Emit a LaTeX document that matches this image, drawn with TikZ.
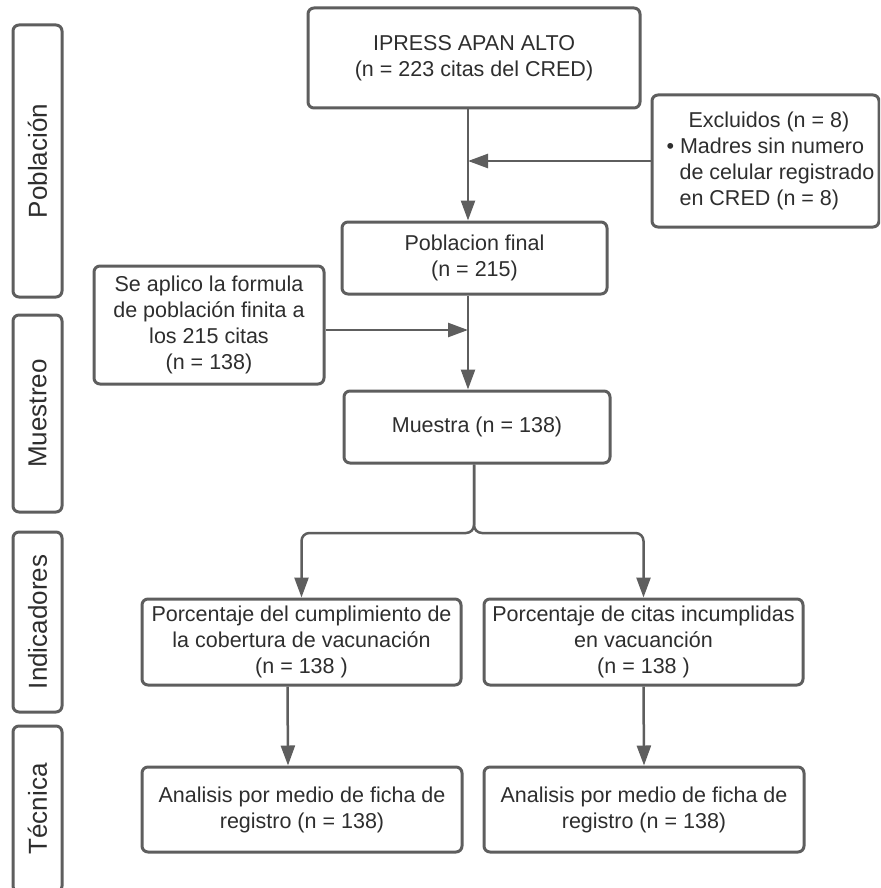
\documentclass[tikz,border=0pt]{standalone}
\usepackage{fontspec}
\setmainfont{Liberation Sans}
\usetikzlibrary{arrows.meta,positioning}
\definecolor{linegray}{HTML}{5E5E5E}
\definecolor{textgray}{HTML}{2E2E2E}

\begin{document}
\begin{tikzpicture}[x=1pt,y=-1pt,
  box/.style={rectangle,draw=linegray,line width=3pt,rounded corners=6pt,fill=white,
    align=center,inner sep=0pt,text=textgray,font=\fontsize{21.5}{26}\selectfont},
  side/.style={box,rotate=90,minimum height=49pt,font=\fontsize{26}{30}\selectfont},
  arr/.style={draw=linegray,line width=2.5pt,-{Triangle[length=20pt,width=14pt]}}]
\useasboundingbox (0,0) rectangle (880,888);
\clip (0,0) rectangle (880,888);
% left column
\node[side,minimum width=272pt] (pob) at (37.5,161) {Población};
\node[side,minimum width=197pt] (mst) at (37.5,413.5) {Muestreo};
\node[side,minimum width=180pt] (ind) at (37.5,622) {Indicadores};
\node[side,minimum width=166pt] (tec) at (37.5,809) {Técnica};
% flow boxes
\node[box,minimum width=332pt,minimum height=100pt] (ipress) at (474,58) {IPRESS APAN ALTO\\(n = 223 citas del CRED)};
\node[box,minimum width=227pt,minimum height=132pt,align=left] (excl) at (765.5,161) {\hspace*{32pt}Excluidos (n = 8)\\\hspace*{10pt}\textbullet\ Madres sin numero\\\hspace*{23pt}de celular registrado\\\hspace*{23pt}en CRED (n = 8)};
\node[box,minimum width=265pt,minimum height=72pt] (fin) at (474.5,258) {Poblacion final\\(n = 215)};
\node[box,minimum width=230pt,minimum height=118pt] (form) at (209,325) {Se aplico la formula\\de población finita a\\los 215 citas\\(n = 138)};
\node[box,minimum width=266pt,minimum height=72pt] (mues) at (477,427) {Muestra (n = 138)};
\node[box,minimum width=319pt,minimum height=86pt] (indl) at (301.5,642) {Porcentaje del cumplimiento de\\la cobertura de vacunación\\(n = 138 )};
\node[box,minimum width=319pt,minimum height=86pt] (indr) at (643.5,642) {Porcentaje de citas incumplidas\\en vacuanción\\(n = 138 )};
\node[box,minimum width=320pt,minimum height=85pt] (tecl) at (302,809.5) {Analisis por medio de ficha de\\registro (n = 138)};
\node[box,minimum width=320pt,minimum height=85pt] (tecr) at (644,809.5) {Analisis por medio de ficha de\\registro (n = 138)};
% connectors
\coordinate (spine) at (468,0);
\coordinate (split) at (474,533);
\draw[arr] (ipress.south -| spine) -- (fin.north -| spine);
\draw[arr] (excl.west) -- (excl.west -| spine);
\draw[arr] (fin.south -| spine) -- (mues.north -| spine);
\draw[arr] ([yshift=-5pt]form.east) -- ([yshift=-5pt]form.east -| spine);
\draw[arr,rounded corners=8pt] (mues.south -| split) -- (split) -| (indl.north);
\draw[arr,rounded corners=8pt] (mues.south -| split) -- (split) -| (indr.north);
\draw[arr] ([xshift=-14pt]indl.south) -- ([xshift=-14pt]tecl.north);
\draw[arr] (indr.south) -- (tecr.north);
\end{tikzpicture}
\end{document}
